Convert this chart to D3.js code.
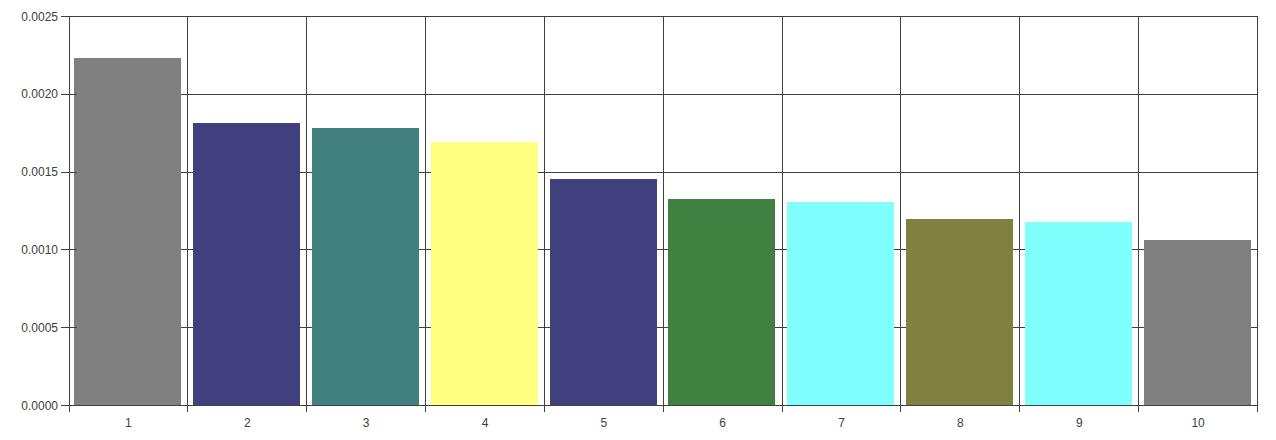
<!DOCTYPE html>
<html><head><meta charset="utf-8">
<script src="https://cdn.jsdelivr.net/npm/d3@7"></script>
<style>
html,body{margin:0;padding:0;background:#fff;}
svg{display:block;}
text{font-family:"Liberation Sans",Arial,sans-serif;font-size:12px;fill:#404040;}
</style></head><body>
<svg id="c" width="1276" height="440"></svg>
<script>
const categories = ["1","2","3","4","5","6","7","8","9","10"];
const values = [0.002232,0.001812,0.001780,0.001690,0.001452,0.001324,0.001305,0.001195,0.001176,0.001060];
const colors = ["#808080","#40407f","#40807f","#ffff80","#40407f","#408040","#80ffff","#808040","#80ffff","#808080"];
const yTicks = [0,0.0005,0.0010,0.0015,0.0020,0.0025];

const svg = d3.select("#c");
const L = 68.5, R = 1257, T = 16, B = 405;
const x = d3.scaleBand().domain(categories).range([L, R]).paddingInner(0).paddingOuter(0);
const y = d3.scaleLinear().domain([0, 0.0025]).range([B, T]);
const lc = "#404040";

// horizontal gridlines
svg.append("g").selectAll("line").data(yTicks).join("line")
  .attr("x1", L).attr("x2", R)
  .attr("y1", d => Math.round(y(d)) + 0.5).attr("y2", d => Math.round(y(d)) + 0.5)
  .attr("stroke", lc).attr("stroke-width", 1);
// vertical gridlines at category boundaries
const bounds = categories.map(c => x(c)).concat([R]);
svg.append("g").selectAll("line").data(bounds).join("line")
  .attr("x1", d => Math.round(d) + 0.5).attr("x2", d => Math.round(d) + 0.5)
  .attr("y1", T).attr("y2", B + 7)
  .attr("stroke", lc).attr("stroke-width", 1);

// bars
const inset = x.bandwidth() * 0.048;
svg.append("g").selectAll("rect").data(values).join("rect")
  .attr("x", (d, i) => Math.round(x(categories[i]) + inset))
  .attr("width", Math.round(x.bandwidth() - 2 * inset))
  .attr("y", d => Math.round(y(d)))
  .attr("height", d => Math.round(B) - Math.round(y(d)) + 0.5)
  .attr("fill", (d, i) => colors[i]);

// left axis line and ticks crossing the axis
svg.append("line").attr("x1", Math.round(L) + 0.5).attr("x2", Math.round(L) + 0.5)
  .attr("y1", T).attr("y2", B + 1).attr("stroke", lc);
svg.append("line").attr("x1", L).attr("x2", R)
  .attr("y1", B + 0.5).attr("y2", B + 0.5).attr("stroke", lc);
svg.append("g").selectAll("line").data(yTicks).join("line")
  .attr("x1", 61).attr("x2", 77)
  .attr("y1", d => Math.round(y(d)) + 0.5).attr("y2", d => Math.round(y(d)) + 0.5)
  .attr("stroke", lc);

// y labels
const fmt = d3.format(".4f");
svg.append("g").selectAll("text").data(yTicks).join("text")
  .attr("x", 58).attr("y", d => y(d) + 4.5)
  .attr("text-anchor", "end").text(d => fmt(d));

// x labels
svg.append("g").selectAll("text").data(categories).join("text")
  .attr("x", d => x(d) + x.bandwidth() / 2 + 0.5).attr("y", 427)
  .attr("text-anchor", "middle").text(d => d);
</script>
</body></html>
